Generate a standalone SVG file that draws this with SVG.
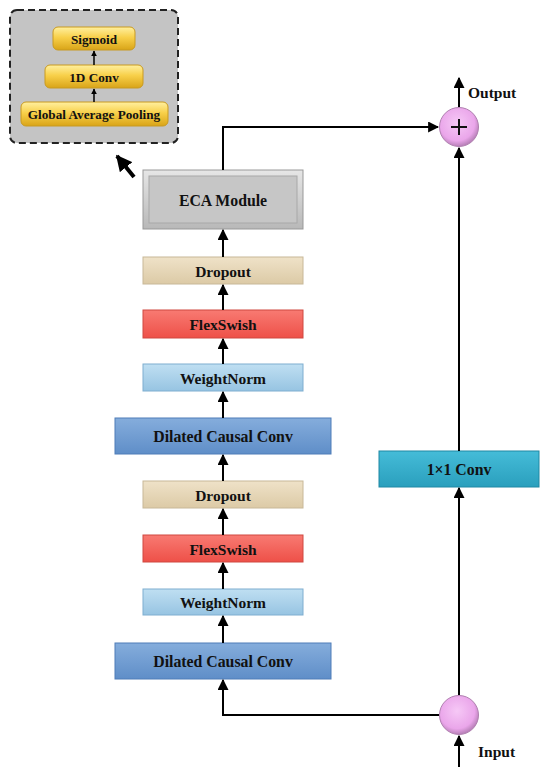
<svg xmlns="http://www.w3.org/2000/svg" width="550" height="777" viewBox="0 0 550 777">
<defs>
<style>
text{font-family:"Liberation Serif","Times New Roman",serif;font-weight:bold;fill:#111;text-anchor:middle;dominant-baseline:central}
.t14{font-size:15.8px}
.t13{font-size:15.5px}
.t11{font-size:13.2px}
.lbl{font-size:15.5px;text-anchor:start}
.ln{fill:none;stroke:#000;stroke-width:2}
.sm{fill:none;stroke:#000;stroke-width:1.5}
</style>
<linearGradient id="gY" x1="0" y1="0" x2="0" y2="1"><stop offset="0" stop-color="#fff0a0"/><stop offset="0.45" stop-color="#f8d04a"/><stop offset="1" stop-color="#d9a418"/></linearGradient>
<linearGradient id="gGray" x1="0" y1="0" x2="0" y2="1"><stop offset="0" stop-color="#e6e6e6"/><stop offset="1" stop-color="#b8b8b8"/></linearGradient>
<linearGradient id="gBeige" x1="0" y1="0" x2="0" y2="1"><stop offset="0" stop-color="#efe2c8"/><stop offset="1" stop-color="#dccaa6"/></linearGradient>
<linearGradient id="gRed" x1="0" y1="0" x2="0" y2="1"><stop offset="0" stop-color="#f87a72"/><stop offset="1" stop-color="#ee5048"/></linearGradient>
<linearGradient id="gLB" x1="0" y1="0" x2="0" y2="1"><stop offset="0" stop-color="#bfdff2"/><stop offset="1" stop-color="#97c4e2"/></linearGradient>
<linearGradient id="gDB" x1="0" y1="0" x2="0" y2="1"><stop offset="0" stop-color="#85addc"/><stop offset="1" stop-color="#5f8ec8"/></linearGradient>
<linearGradient id="gTeal" x1="0" y1="0" x2="0" y2="1"><stop offset="0" stop-color="#45bcd8"/><stop offset="1" stop-color="#2a9fbd"/></linearGradient>
<radialGradient id="gPink" cx="0.45" cy="0.4" r="0.6"><stop offset="0" stop-color="#f6c8f6"/><stop offset="0.75" stop-color="#eaa6ea"/><stop offset="1" stop-color="#b77fb7"/></radialGradient>
<marker id="ah" viewBox="0 0 10 10" refX="9" refY="5" markerWidth="5.5" markerHeight="5.5" orient="auto" markerUnits="strokeWidth"><path d="M0,0 L10,5 L0,10 z" fill="#000"/></marker>
<marker id="ahs" viewBox="0 0 10 10" refX="9" refY="5" markerWidth="4" markerHeight="4" orient="auto" markerUnits="strokeWidth"><path d="M0,0 L10,5 L0,10 z" fill="#000"/></marker>
</defs>
<rect width="550" height="777" fill="#fff"/>

<g id="eca-inset">
<rect x="10" y="10" width="168" height="133" rx="7" fill="#c4c4c4" stroke="#222" stroke-width="2" stroke-dasharray="7,4"/>
</g>
<g id="sigmoid"><rect x="53" y="27" width="82" height="23" rx="5" fill="url(#gY)" stroke="#c99a20" stroke-width="1"/><text class="t11" x="94" y="39">Sigmoid</text></g>
<g id="conv1d"><rect x="45" y="65" width="98" height="23" rx="5" fill="url(#gY)" stroke="#c99a20" stroke-width="1"/><text class="t11" x="94" y="77">1D Conv</text></g>
<g id="gap"><rect x="21" y="102" width="147" height="24" rx="5" fill="url(#gY)" stroke="#c99a20" stroke-width="1"/><text class="t11" x="94" y="114">Global Average Pooling</text></g>

<g id="eca"><rect x="143" y="170" width="160" height="59" fill="url(#gGray)" stroke="#999" stroke-width="1"/><rect x="149" y="176" width="148" height="47" fill="#c6c6c6" stroke="#a8a8a8" stroke-width="1"/><text class="t14" x="223" y="200">ECA Module</text></g>
<g id="dropout1"><rect x="143" y="257" width="160" height="27" fill="url(#gBeige)" stroke="#c8b898" stroke-width="1"/><text class="t13" x="223" y="271">Dropout</text></g>
<g id="flexswish1"><rect x="143" y="310" width="160" height="28" fill="url(#gRed)" stroke="#d04840" stroke-width="1"/><text class="t13" x="223" y="324">FlexSwish</text></g>
<g id="weightnorm1"><rect x="143" y="364" width="160" height="27" fill="url(#gLB)" stroke="#7eaed0" stroke-width="1"/><text class="t13" x="223" y="378">WeightNorm</text></g>
<g id="dcc1"><rect x="115" y="418" width="216" height="36" fill="url(#gDB)" stroke="#4f7db8" stroke-width="1"/><text class="t14" x="223" y="436">Dilated Causal Conv</text></g>
<g id="dropout2"><rect x="143" y="481" width="160" height="27" fill="url(#gBeige)" stroke="#c8b898" stroke-width="1"/><text class="t13" x="223" y="495">Dropout</text></g>
<g id="flexswish2"><rect x="143" y="535" width="160" height="27" fill="url(#gRed)" stroke="#d04840" stroke-width="1"/><text class="t13" x="223" y="549">FlexSwish</text></g>
<g id="weightnorm2"><rect x="143" y="589" width="160" height="26" fill="url(#gLB)" stroke="#7eaed0" stroke-width="1"/><text class="t13" x="223" y="602">WeightNorm</text></g>
<g id="dcc2"><rect x="115" y="643" width="216" height="36" fill="url(#gDB)" stroke="#4f7db8" stroke-width="1"/><text class="t14" x="223" y="661">Dilated Causal Conv</text></g>
<g id="conv1x1"><rect x="379" y="451" width="160" height="36" fill="url(#gTeal)" stroke="#1f88a4" stroke-width="1"/><text class="t14" x="459" y="469">1×1 Conv</text></g>
<g id="add"><circle cx="459" cy="127" r="19.5" fill="url(#gPink)" stroke="#b080b0" stroke-width="1"/><path d="M451,127 H467 M459,119 V135" stroke="#111" stroke-width="2"/></g>
<g id="split"><circle cx="459" cy="715" r="19.5" fill="url(#gPink)" stroke="#b080b0" stroke-width="1"/></g>
<g id="labels"><text class="lbl" x="468" y="92">Output</text><text class="lbl" x="478" y="751">Input</text></g>

<g id="connectors">
<line class="sm" x1="94" y1="65" x2="94" y2="51" marker-end="url(#ahs)"/>
<line class="sm" x1="94" y1="102" x2="94" y2="89" marker-end="url(#ahs)"/>
<line x1="134" y1="177" x2="117" y2="156" stroke="#000" stroke-width="4" marker-end="url(#ahs)"/>
<line class="ln" x1="223" y1="257" x2="223" y2="230" marker-end="url(#ah)"/>
<line class="ln" x1="223" y1="310" x2="223" y2="285" marker-end="url(#ah)"/>
<line class="ln" x1="223" y1="364" x2="223" y2="339" marker-end="url(#ah)"/>
<line class="ln" x1="223" y1="418" x2="223" y2="392" marker-end="url(#ah)"/>
<line class="ln" x1="223" y1="481" x2="223" y2="455" marker-end="url(#ah)"/>
<line class="ln" x1="223" y1="535" x2="223" y2="509" marker-end="url(#ah)"/>
<line class="ln" x1="223" y1="589" x2="223" y2="563" marker-end="url(#ah)"/>
<line class="ln" x1="223" y1="643" x2="223" y2="616" marker-end="url(#ah)"/>
<polyline class="ln" points="439,715 223,715 223,680" marker-end="url(#ah)"/>
<polyline class="ln" points="223,170 223,127 438,127" marker-end="url(#ah)"/>
<line class="ln" x1="459" y1="695" x2="459" y2="488" marker-end="url(#ah)"/>
<line class="ln" x1="459" y1="451" x2="459" y2="148" marker-end="url(#ah)"/>
<line class="ln" x1="459" y1="107" x2="459" y2="78" marker-end="url(#ah)"/>
<line class="ln" x1="459" y1="767" x2="459" y2="736" marker-end="url(#ah)"/>
</g>
</svg>
